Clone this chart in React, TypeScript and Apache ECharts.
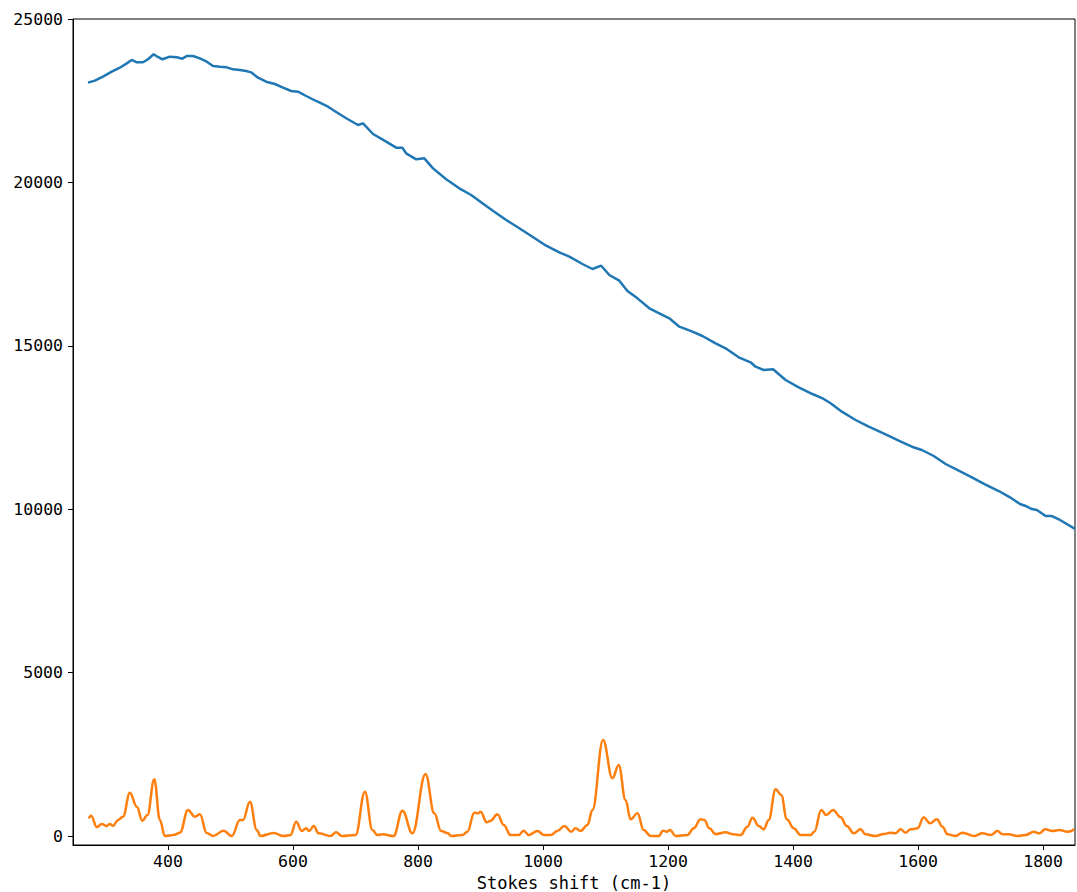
import React, { useEffect, useRef } from "react";
import * as echarts from "echarts";

// Blue trace: [Stokes shift (cm-1), intensity]
const blueSeries: [number, number][] = [
  [272, 23052], [283, 23113], [296, 23235], [310, 23388], [323, 23510], [334, 23643],
  [342, 23746], [350, 23675], [360, 23675], [368, 23767], [377, 23920], [383, 23847],
  [391, 23767], [403, 23847], [414, 23827], [423, 23786], [430, 23868], [440, 23868],
  [451, 23797], [462, 23694], [472, 23562], [483, 23541], [494, 23521], [504, 23460],
  [515, 23440], [525, 23409], [533, 23368], [544, 23204], [557, 23082], [571, 23011],
  [584, 22898], [597, 22797], [608, 22776], [621, 22644], [637, 22491], [656, 22317],
  [664, 22216], [685, 21962], [704, 21757], [712, 21808], [728, 21481], [749, 21246],
  [765, 21062], [775, 21062], [781, 20889], [797, 20705], [810, 20736], [824, 20430],
  [845, 20094], [866, 19819], [885, 19615], [903, 19360], [922, 19104], [941, 18850],
  [962, 18595], [983, 18339], [1005, 18063], [1026, 17861], [1042, 17727], [1063, 17503],
  [1079, 17350], [1093, 17451], [1106, 17167], [1122, 16992], [1135, 16677], [1151, 16452],
  [1170, 16147], [1186, 15994], [1202, 15841], [1218, 15585], [1239, 15432], [1255, 15300],
  [1276, 15077], [1292, 14924], [1313, 14648], [1332, 14495], [1340, 14361], [1353, 14260],
  [1368, 14281], [1388, 13954], [1409, 13730], [1431, 13525], [1447, 13394], [1460, 13241],
  [1478, 12984], [1500, 12730], [1521, 12525], [1542, 12341], [1569, 12096], [1590, 11913],
  [1606, 11812], [1625, 11628], [1644, 11383], [1665, 11178], [1686, 10976], [1707, 10762],
  [1729, 10557], [1747, 10364], [1763, 10159], [1771, 10107], [1782, 10006], [1790, 9976],
  [1804, 9792], [1814, 9792], [1827, 9670], [1851, 9400],
];

// Orange trace: [Stokes shift (cm-1), intensity]
const orangeSeries: [number, number][] = [
  [273, 540], [277, 620], [286, 275], [294, 367], [302, 306], [307, 367], [312, 306],
  [320, 490], [328, 590], [339, 1325], [350, 897], [359, 468], [367, 643], [378, 1735],
  [387, 490], [395, 0], [409, 31], [419, 100], [432, 796], [443, 590], [451, 664],
  [462, 92], [472, 0], [489, 163], [502, 0], [515, 490], [520, 490], [531, 1050],
  [542, 184], [548, 0], [569, 92], [585, 0], [596, 30], [605, 438], [614, 153],
  [621, 235], [626, 153], [633, 306], [641, 82], [660, 0], [669, 112], [678, 0],
  [700, 30], [715, 1356], [727, 184], [735, 30], [743, 51], [761, 0], [775, 775],
  [791, 82], [812, 1897], [826, 694], [837, 153], [848, 82], [853, 0], [871, 30],
  [879, 132], [890, 714], [896, 694], [900, 745], [910, 418], [916, 469], [927, 663],
  [937, 337], [948, 30], [961, 30], [969, 163], [977, 30], [991, 153], [1002, 30],
  [1012, 30], [1023, 153], [1034, 306], [1045, 132], [1052, 235], [1060, 153],
  [1071, 337], [1079, 796], [1096, 2938], [1111, 1765], [1121, 2173], [1132, 1102],
  [1140, 510], [1151, 694], [1161, 184], [1172, 0], [1185, 0], [1192, 163], [1198, 132],
  [1203, 184], [1212, 0], [1231, 30], [1241, 235], [1252, 510], [1258, 490], [1266, 235],
  [1276, 60], [1292, 112], [1305, 51], [1316, 30], [1327, 286], [1335, 561], [1345, 306],
  [1353, 204], [1361, 490], [1372, 1428], [1381, 1254], [1390, 510], [1401, 235],
  [1412, 30], [1428, 30], [1434, 132], [1445, 796], [1453, 643], [1464, 796], [1476, 571],
  [1486, 306], [1497, 82], [1508, 204], [1516, 51], [1532, 0], [1545, 60], [1556, 102],
  [1564, 82], [1572, 204], [1580, 102], [1588, 204], [1599, 235], [1609, 571], [1619, 388],
  [1630, 510], [1639, 286], [1647, 51], [1660, 0], [1671, 102], [1690, 0], [1703, 82],
  [1716, 30], [1727, 153], [1735, 51], [1745, 51], [1759, 0], [1772, 30], [1785, 132],
  [1794, 82], [1803, 204], [1815, 153], [1826, 184], [1839, 132], [1850, 204],
];

const xTicks = [400, 600, 800, 1000, 1200, 1400, 1600, 1800];
const yTicks = [0, 5000, 10000, 15000, 20000, 25000];
const xAxisTitle = "Stokes shift (cm-1)";

const FONT = "'DejaVu Sans Mono', monospace";

export default function App() {
  const ref = useRef<HTMLDivElement>(null);
  useEffect(() => {
    if (!ref.current) return;
    const chart = echarts.init(ref.current, undefined, { renderer: "svg" });
    chart.setOption({
      animation: false,
      backgroundColor: "#fff",
      grid: {
        left: 73,
        top: 19,
        right: 2,
        bottom: 47,
        show: true,
        borderColor: "#000",
        borderWidth: 1,
        backgroundColor: "transparent",
        outerBoundsMode: "none",
        containLabel: false,
      },
      xAxis: {
        type: "value",
        min: 248,
        max: 1851,
        name: xAxisTitle,
        nameLocation: "middle",
        nameGap: 27,
        nameTextStyle: { fontFamily: FONT, fontSize: 17, color: "#000" },
        axisLine: { show: true, onZero: false, lineStyle: { color: "#000", width: 1 } },
        axisTick: { show: true, length: 5, customValues: xTicks, lineStyle: { color: "#000" } },
        axisLabel: {
          customValues: xTicks,
          margin: 8,
          fontFamily: FONT,
          fontSize: 16.5,
          color: "#000",
          formatter: (v: number) => String(v),
        },
        splitLine: { show: false },
      },
      yAxis: {
        type: "value",
        min: -275,
        max: 25000,
        axisLine: { show: true, onZero: false, lineStyle: { color: "#000", width: 1 } },
        axisTick: { show: true, length: 5, customValues: yTicks, lineStyle: { color: "#000" } },
        axisLabel: {
          customValues: yTicks,
          margin: 10,
          fontFamily: FONT,
          fontSize: 16.5,
          color: "#000",
          formatter: (v: number) => String(v),
        },
        splitLine: { show: false },
      },
      series: [
        {
          type: "line",
          data: blueSeries,
          showSymbol: false,
          lineStyle: { color: "#1f77b4", width: 2.5 },
          itemStyle: { color: "#1f77b4" },
          clip: true,
        },
        {
          type: "line",
          data: orangeSeries,
          showSymbol: false,
          smooth: 0.4,
          smoothMonotone: "x",
          lineStyle: { color: "#ff7f0e", width: 2.5 },
          itemStyle: { color: "#ff7f0e" },
          clip: true,
        },
      ],
    });
    return () => chart.dispose();
  }, []);
  return (
    <div
      ref={ref}
      style={{ position: "fixed", left: 0, top: 0, width: 1077, height: 892, background: "#fff" }}
    />
  );
}
